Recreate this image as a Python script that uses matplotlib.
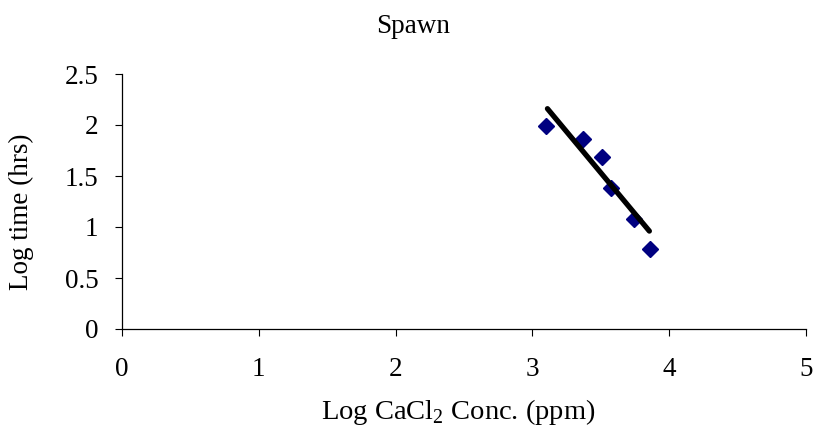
import matplotlib
matplotlib.use('Agg')
import matplotlib.pyplot as plt

# data
log_conc = [3.10, 3.37, 3.51, 3.575, 3.74, 3.86]
log_time = [1.99, 1.86, 1.69, 1.385, 1.08, 0.78]
trend_x = [3.11, 3.855]
trend_y = [2.16, 0.96]
x_ticks = [0, 1, 2, 3, 4, 5]
y_ticks = [0, 0.5, 1, 1.5, 2, 2.5]
y_labels = ['0', '0.5', '1', '1.5', '2', '2.5']

plt.rcParams['font.family'] = ['Liberation Serif', 'DejaVu Serif']
plt.rcParams['mathtext.fontset'] = 'custom'
plt.rcParams['mathtext.rm'] = 'Liberation Serif'

W, H = 814, 428
fig = plt.figure(figsize=(8.14, 4.28), dpi=100)
ax = fig.add_axes([122/W, 1 - 329/H, 684/W, 255/H])

ax.plot(log_conc, log_time, linestyle='none', marker='D', markersize=8.3,
        color='#000080', zorder=2)
ax.plot(trend_x, trend_y, color='black', linewidth=3.8, solid_capstyle='round', zorder=3)

ax.set_xlim(0, 5)
ax.set_ylim(0, 2.5)
ax.set_xticks(x_ticks)
ax.set_xticklabels([str(t) for t in x_ticks])
ax.set_yticks(y_ticks)
ax.set_yticklabels(y_labels)
ax.tick_params(axis='both', direction='out', length=5, width=0.8, labelsize=19.5)
ax.tick_params(axis='x', pad=15)
ax.tick_params(axis='y', pad=12)

for s in ['top', 'right']:
    ax.spines[s].set_visible(False)
for s in ['left', 'bottom']:
    ax.spines[s].set_linewidth(0.9)

fig.text(21/W, 1 - 212/H, 'Log time (hrs)', rotation=90, ha='center', va='center',
         fontsize=19.5)
fig.text(458/W, 1 - 419/H, r'Log CaCl$_2$ Conc. (ppm)', ha='center', va='baseline',
         fontsize=20.5)
fig.text(413/W, 1 - 33/H, 'Spawn', ha='center', va='baseline', fontsize=19.5)

fig.savefig('out.png', dpi=100, facecolor='white')
plt.close(fig)
